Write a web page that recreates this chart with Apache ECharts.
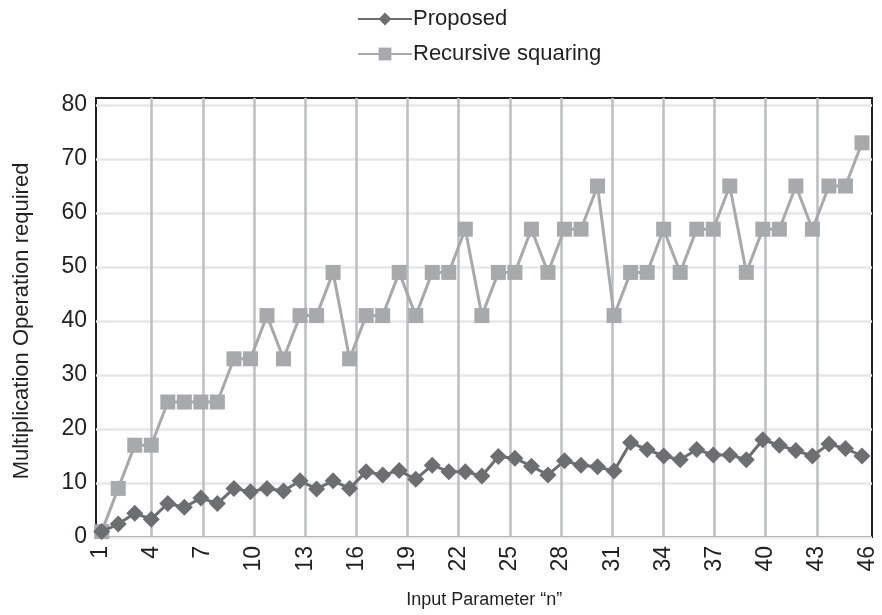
<!DOCTYPE html>
<html>
<head>
<meta charset="utf-8">
<script src="https://cdn.jsdelivr.net/npm/echarts@6/dist/echarts.min.js"></script>
<style>
  html, body { margin: 0; padding: 0; background: #fff; }
  #main { width: 882px; height: 615px; }
</style>
</head>
<body>
<div id="main"></div>
<script>
// data points (n = 1..47)
var nValues = ['1','2','3','4','5','6','7','8','9','10','11','12','13','14','15','16','17','18','19','20','21','22','23','24','25','26','27','28','29','30','31','32','33','34','35','36','37','38','39','40','41','42','43','44','45','46','47'];
var proposed = [1, 2.4, 4.4, 3.3, 6.2, 5.5, 7.2, 6.2, 9.0, 8.4, 9.0, 8.5, 10.4, 8.9, 10.4, 9.0, 12.1, 11.5, 12.3, 10.7, 13.3, 12.1, 12.1, 11.3, 14.9, 14.6, 13.1, 11.5, 14.1, 13.3, 13.0, 12.2, 17.5, 16.2, 15.0, 14.3, 16.2, 15.2, 15.2, 14.3, 18.0, 17.0, 16.0, 15.0, 17.2, 16.4, 15.0];
var recursiveSquaring = [1, 9, 17, 17, 25, 25, 25, 25, 33, 33, 41, 33, 41, 41, 49, 33, 41, 41, 49, 41, 49, 49, 57, 41, 49, 49, 57, 49, 57, 57, 65, 41, 49, 49, 57, 49, 57, 57, 65, 49, 57, 57, 65, 57, 65, 65, 73];
// axis tick labels
var tickLabels = ['1','2','3','4','5','6','7','8','9','10','11','12','13','14','15','16','17','18','19','20','21','22','23','24','25','26','27','28','29','30','31','32','33','34','35','36','37','38','39','40','41','42','43','44','45','46'];

var chart = echarts.init(document.getElementById('main'));
var font = 'Liberation Sans, Arial, sans-serif';

var option = {
  animation: false,
  textStyle: { fontFamily: font },
  legend: {
    orient: 'vertical',
    left: 352,
    top: 3,
    itemWidth: 54,
    itemHeight: 16,
    itemGap: 13,
    textStyle: { fontSize: 22, color: '#231f20', fontFamily: font, padding: [0, 0, 0, -4] },
    data: ['Proposed', 'Recursive squaring']
  },
  grid: [
    // frame
    { left: 96, right: 10, top: 98, bottom: 78, show: true, borderColor: '#231f20', borderWidth: 2, backgroundColor: 'transparent' },
    // y axis
    { left: 96, right: 10, top: 105, bottom: 78 },
    // x labels / vertical lines
    { left: 100.5, right: 14, top: 98, bottom: 78 },
    // data
    { left: 101.7, right: 20, top: 105, bottom: 78 }
  ],
  xAxis: [
    { gridIndex: 0, type: 'value', show: false },
    { gridIndex: 1, type: 'value', show: false },
    {
      gridIndex: 2,
      type: 'category',
      data: tickLabels,
      boundaryGap: false,
      name: 'Input Parameter \u201cn\u201d',
      nameLocation: 'middle',
      nameGap: 54,
      nameTextStyle: { fontSize: 18, color: '#231f20', fontFamily: font },
      axisLine: { show: false },
      axisTick: { show: false },
      axisLabel: { interval: 2, rotate: 90, fontSize: 23, color: '#231f20', margin: 9, fontFamily: font },
      splitLine: {
        show: true,
        interval: function (index) { return index % 3 === 0 && index > 0 && index < 45; },
        lineStyle: { color: '#bcbec0', width: 2.5 }
      }
    },
    { gridIndex: 3, type: 'category', data: nValues, boundaryGap: false, show: false }
  ],
  yAxis: [
    { gridIndex: 0, type: 'value', show: false },
    {
      gridIndex: 1,
      type: 'value',
      min: 0,
      max: 80,
      interval: 10,
      name: 'Multiplication Operation required',
      nameLocation: 'middle',
      nameGap: 63,
      nameTextStyle: { fontSize: 22, color: '#231f20', fontFamily: font },
      axisLine: { show: false },
      axisTick: { show: false },
      axisLabel: { fontSize: 23, color: '#231f20', margin: 9, fontFamily: font },
      splitLine: { lineStyle: { color: '#e6e7e8', width: 2.5 } }
    },
    { gridIndex: 2, type: 'value', min: 0, max: 80, show: false, splitLine: { show: false } },
    { gridIndex: 3, type: 'value', min: 0, max: 80, show: false, splitLine: { show: false } }
  ],
  series: [
    {
      name: 'Proposed',
      type: 'line',
      xAxisIndex: 3,
      yAxisIndex: 3,
      data: proposed,
      symbol: 'diamond',
      symbolSize: 17,
      showAllSymbol: true,
      z: 3,
      itemStyle: { color: '#6d6e71' },
      lineStyle: { color: '#6d6e71', width: 3 }
    },
    {
      name: 'Recursive squaring',
      type: 'line',
      xAxisIndex: 3,
      yAxisIndex: 3,
      data: recursiveSquaring,
      symbol: 'rect',
      symbolSize: 15,
      showAllSymbol: true,
      z: 2,
      itemStyle: { color: '#a7a9ac' },
      lineStyle: { color: '#a7a9ac', width: 3 }
    }
  ]
};
chart.setOption(option);
</script>
</body>
</html>
